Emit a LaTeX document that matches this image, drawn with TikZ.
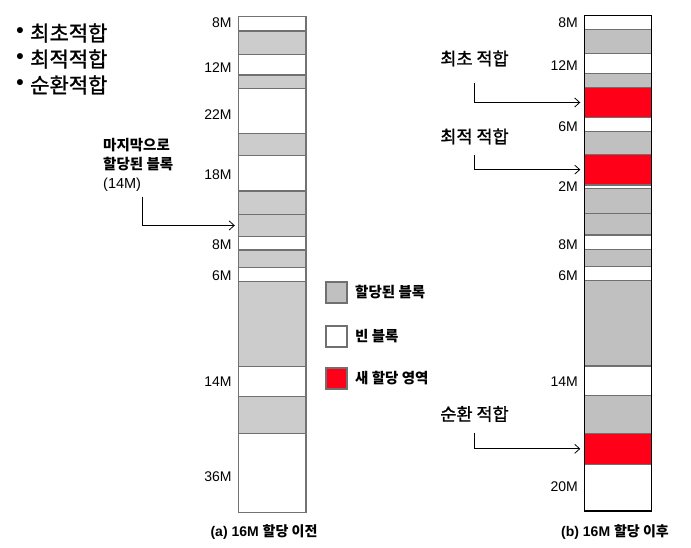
\documentclass[tikz,border=0pt]{standalone}
\usepackage{fontspec}
\setmainfont{Liberation Sans}
\newfontfamily\kr{Noto Sans CJK KR}
\newfontfamily\krm{Noto Sans CJK KR}[FakeBold=1.2]
\usetikzlibrary{arrows.meta}
\definecolor{blkgray}{RGB}{204,204,204}
\definecolor{blkgrayb}{RGB}{192,192,192}
\definecolor{newred}{RGB}{255,0,25}
\definecolor{sepgray}{RGB}{112,112,112}
\begin{document}
\begin{tikzpicture}[x=1pt,y=-1pt,
  memblk/.style={draw=sepgray, line width=1.1pt, inner sep=0pt, outer sep=0pt, anchor=north west},
  sizelbl/.style={anchor=east, inner sep=0pt, font=\fontsize{14}{16}\selectfont},
  fitlbl/.style={inner sep=0pt, font=\fontsize{17.5}{20}\selectfont\krm},
  bullettxt/.style={anchor=west, inner sep=0pt, font=\fontsize{21}{24}\selectfont\krm},
  bulletdot/.style={inner sep=0pt, font=\fontsize{21}{24}\selectfont\bfseries},
  notetxt/.style={anchor=west, inner sep=0pt, font=\fontsize{14.5}{17}\selectfont\bfseries\kr},
  legbox/.style={draw=sepgray, line width=1.1pt, minimum size=21pt, inner sep=0pt},
  legtxt/.style={anchor=west, inner sep=0pt, font=\fontsize{14.5}{17}\selectfont\bfseries\kr},
  captxt/.style={inner sep=0pt, font=\fontsize{14}{17}\selectfont\bfseries},
  conn/.style={-{Straight Barb[length=5pt,width=9pt]}, line width=0.8pt}]
\useasboundingbox (0,0) rectangle (691,548);

% ---- left column (before) ----
\foreach \t/\b/\c [count=\i] in {16.7/31/white, 31/54.3/blkgray, 54.3/75/white, 75/88.3/blkgray,
  88.3/133.3/white, 133.3/155.3/blkgray, 155.3/191/white, 191/214.3/blkgray, 214.3/236.7/blkgray,
  236.7/250/white, 250/267.3/blkgray, 267.3/281.7/white, 281.7/366.7/blkgray, 366.7/396.7/white,
  396.7/433.3/blkgray, 433.3/512.3/white}{
  \pgfmathsetmacro\h{\b-\t}
  \node[memblk, fill=\c, minimum width=67.7pt, minimum height=\h pt] (L\i) at (238.3,\t) {};
}
\draw[draw=gray!90!black, line width=1.1pt] (L1.north west) rectangle (L16.south east);

% ---- right column (after) ----
\foreach \t/\b/\c [count=\i] in {15.7/29.3/white, 29.3/53.3/blkgrayb, 53.3/73.3/white, 73.3/87.7/blkgrayb,
  87.7/117.3/newred, 117.3/131.7/white, 131.7/154.3/blkgrayb, 154.3/185/newred, 185/188.3/white,
  188.3/213.3/blkgrayb, 213.3/235/blkgrayb, 235/249.3/white, 249.3/266.7/blkgrayb, 266.7/280.7/white,
  280.7/366/blkgrayb, 366/395.7/white, 395.7/433.3/blkgrayb, 433.3/464.3/newred, 464.3/511/white}{
  \pgfmathsetmacro\h{\b-\t}
  \node[memblk, fill=\c, minimum width=67.4pt, minimum height=\h pt] (R\i) at (584.3,\t) {};
}
\draw[draw=black, line width=1.1pt] (R1.north west) rectangle (R19.south east);

% ---- size labels left ----
\node[sizelbl] (la1) at (231.7,23) {8M};
\node[sizelbl] (la2) at (231.7,67.5) {12M};
\node[sizelbl] (la3) at (231.7,114.5) {22M};
\node[sizelbl] (la4) at (231.7,175) {18M};
\node[sizelbl] (la5) at (231.7,244.5) {8M};
\node[sizelbl] (la6) at (231.7,276) {6M};
\node[sizelbl] (la7) at (231.7,382) {14M};
\node[sizelbl] (la8) at (231.7,477) {36M};

% ---- size labels right ----
\node[sizelbl] (lb1) at (578,23) {8M};
\node[sizelbl] (lb2) at (578,66) {12M};
\node[sizelbl] (lb3) at (578,127) {6M};
\node[sizelbl] (lb4) at (578,187) {2M};
\node[sizelbl] (lb5) at (578,244.5) {8M};
\node[sizelbl] (lb6) at (578,276) {6M};
\node[sizelbl] (lb7) at (578,382) {14M};
\node[sizelbl] (lb8) at (578,487) {20M};

% ---- bullet list ----
\node[bulletdot] (d1) at (20,33) {•};
\node[bulletdot] (d2) at (20,59) {•};
\node[bulletdot] (d3) at (20,85) {•};
\node[bullettxt] (t1) at (30,33) {최초적합};
\node[bullettxt] (t2) at (30,59) {최적적합};
\node[bullettxt] (t3) at (30,85) {순환적합};

% ---- last allocated note ----
\node[notetxt] (m1) at (103,145.3) {마지막으로};
\node[notetxt] (m2) at (103,164) {할당된 블록};
\node[anchor=west, inner sep=0pt, font=\fontsize{14.5}{17}\selectfont] (m3) at (103,185) {(14M)};
\coordinate (a0) at (142.3,196.7);
\draw[conn] (a0) |- ([xshift=-3.5pt]L9.west);

% ---- fit labels right ----
\node[fitlbl] (f1) at (474.5,58.5) {최초 적합};
\node[fitlbl] (f2) at (474.5,136.5) {최적 적합};
\node[fitlbl] (f3) at (474.5,414) {순환 적합};
\coordinate (a1) at (474,83.3);
\coordinate (a2) at (474,155);
\coordinate (a3) at (474,432.7);
\draw[conn] (a1) |- ([xshift=-4pt]R5.west);
\draw[conn] (a2) |- ([xshift=-4pt]R8.west);
\draw[conn] (a3) |- ([xshift=-4pt]R18.west);

% ---- legend ----
\node[legbox, fill=blkgrayb] (g1) at (336.5,292.5) {};
\node[legbox, fill=white] (g2) at (336.5,336.5) {};
\node[legbox, fill=newred] (g3) at (336.5,378.5) {};
\node[legtxt] (gt1) at (355,292.5) {할당된 블록};
\node[legtxt] (gt2) at (355,336.5) {빈 블록};
\node[legtxt] (gt3) at (355,378.5) {새 할당 영역};

% ---- captions ----
\node[captxt] (c1) at (264,531.7) {(a) 16M {\kr 할당 이전}};
\node[captxt] (c2) at (615,531.7) {(b) 16M {\kr 할당 이후}};
\end{tikzpicture}
\end{document}
